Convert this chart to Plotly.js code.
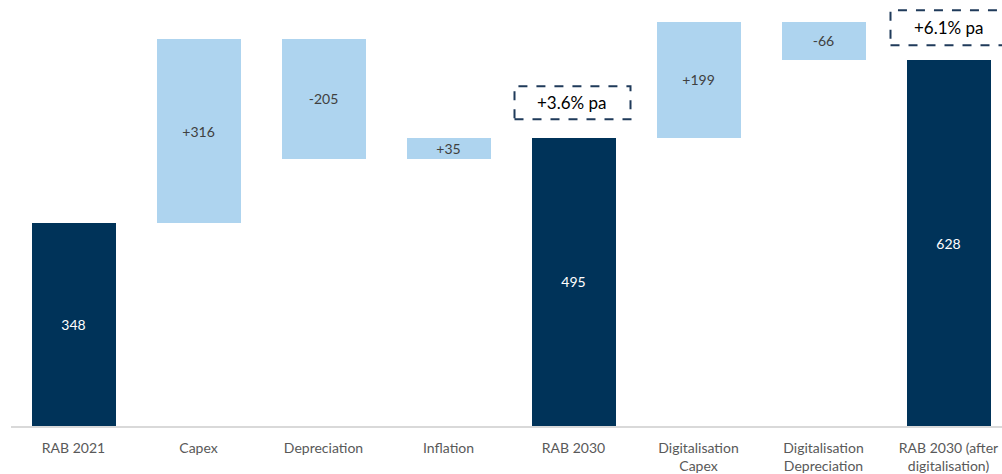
<!DOCTYPE html>
<html>
<head>
<meta charset="utf-8">
<script src="https://cdn.plot.ly/plotly-3.0.1.min.js"></script>
<style>html,body{margin:0;padding:0;background:#fff;}#chart{width:1002px;height:474px;}</style>
</head>
<body>
<div id="chart"></div>
<script>
const categories = ["RAB 2021", "Capex", "Depreciation", "Inflation", "RAB 2030", "Digitalisation<br>Capex", "Digitalisation<br>Depreciation", "RAB 2030 (after<br>digitalisation)"];
const values = [348, 316, -205, 35, 495, 199, -66, 628];
const kinds = ["total", "delta", "delta", "delta", "total", "delta", "delta", "total"];
const labels = ["348", "+316", "-205", "+35", "495", "+199", "-66", "628"];
const growthLabels = ["+3.6% pa", "+6.1% pa"];

const DARK = "#003359", LIGHT = "#aed4ef";
let running = 0;
const bases = [], heights = [], colors = [], textColors = [];
values.forEach((v, i) => {
  if (kinds[i] === "total") {
    bases.push(0); heights.push(v); running = v;
    colors.push(DARK); textColors.push("#ffffff");
  } else {
    if (v >= 0) { bases.push(running); heights.push(v); }
    else { bases.push(running + v); heights.push(-v); }
    running += v;
    colors.push(LIGHT); textColors.push("#404040");
  }
});
const xs = categories.map((c, i) => i);

const trace = {
  type: "bar",
  x: xs,
  y: heights,
  base: bases,
  width: 0.672,
  marker: {color: colors, line: {width: 0}},
  text: labels,
  textposition: "inside",
  insidetextanchor: "middle",
  constraintext: "none",
  textangle: 0,
  textfont: {family: "Lato, 'Open Sans', sans-serif", size: 14, color: textColors},
  hoverinfo: "skip",
  cliponaxis: false
};

const boxStyle = {color: "#1f3a5a", width: 2, dash: "dash"};
const layout = {
  width: 1002, height: 474,
  margin: {l: 11, r: 0, t: 0, b: 48, autoexpand: false},
  paper_bgcolor: "#ffffff", plot_bgcolor: "#ffffff",
  showlegend: false,
  bargap: 0,
  xaxis: {
    range: [-0.5, 7.428],
    tickmode: "array", tickvals: xs, ticktext: categories,
    showgrid: false, zeroline: false,
    showline: true, linecolor: "#d9d9d9", linewidth: 2,
    ticks: "outside", ticklen: 8, tickcolor: "rgba(0,0,0,0)",
    tickfont: {family: "Lato, 'Open Sans', sans-serif", size: 14, color: "#595959"},
    fixedrange: true
  },
  yaxis: {
    range: [0, 731],
    visible: false, showgrid: false, zeroline: false, fixedrange: true
  },
  shapes: [
    {type: "rect", xref: "x", yref: "y", x0: 3.528, x1: 4.456, y0: 526.5, y1: 583, line: boxStyle, fillcolor: "rgba(0,0,0,0)"},
    {type: "rect", xref: "x", yref: "y", x0: 6.536, x1: 7.47, y0: 653.5, y1: 713.5, line: boxStyle, fillcolor: "rgba(0,0,0,0)"}
  ],
  annotations: [
    {x: 3.99, y: 555, xref: "x", yref: "y", text: growthLabels[0], showarrow: false, font: {family: "Lato, 'Open Sans', sans-serif", size: 17, color: "#000000"}},
    {x: 7.0, y: 683.5, xref: "x", yref: "y", text: growthLabels[1], showarrow: false, font: {family: "Lato, 'Open Sans', sans-serif", size: 17, color: "#000000"}}
  ]
};

Plotly.newPlot("chart", [trace], layout, {staticPlot: true, displayModeBar: false});
</script>
</body>
</html>
